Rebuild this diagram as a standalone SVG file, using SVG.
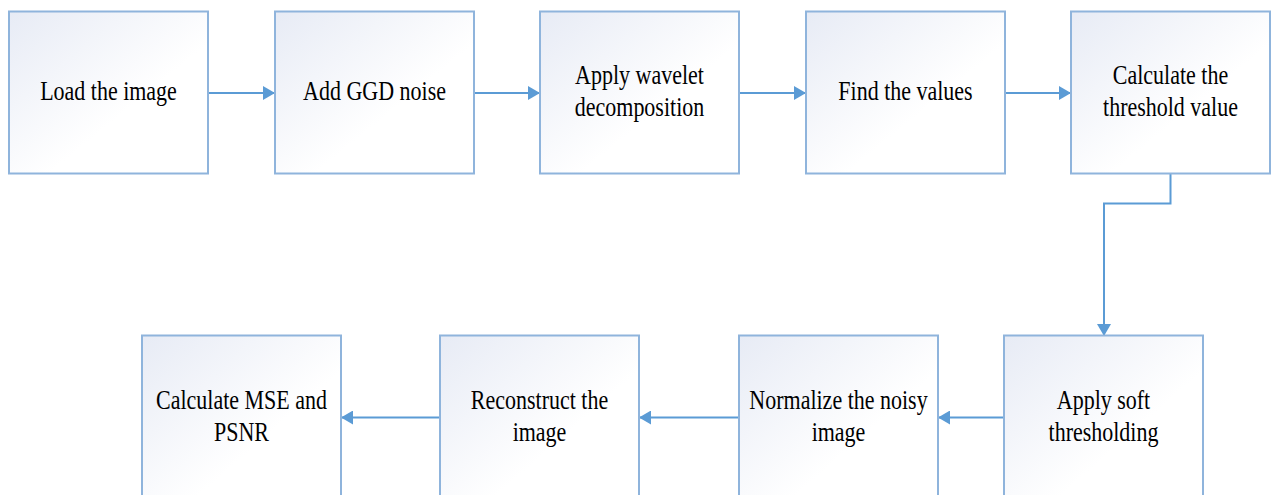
<svg xmlns="http://www.w3.org/2000/svg" width="1277" height="495" viewBox="0 0 1277 495">
<style>
.box{fill:url(#g);stroke:#8fb4dc;stroke-width:2}
.c{fill:none;stroke:#5b9bd5;stroke-width:2}
text{font-family:"Liberation Serif","Times New Roman",serif;font-size:22px;fill:#000;text-anchor:middle}
</style>
<defs>
<linearGradient id="g" x1="0" y1="0" x2="1" y2="1">
<stop offset="0" stop-color="#e7ebf5"/>
<stop offset="0.6" stop-color="#ffffff"/>
<stop offset="1" stop-color="#ffffff"/>
</linearGradient>
<marker id="a" markerUnits="userSpaceOnUse" markerWidth="12" markerHeight="14" refX="11" refY="7" orient="auto">
<path d="M0,0 L12,7 L0,14 Z" fill="#5b9bd5"/>
</marker>
</defs>
<g id="connectors">
<line class="c" x1="208" y1="93" x2="274" y2="93" marker-end="url(#a)"/>
<line class="c" x1="474" y1="93" x2="539" y2="93" marker-end="url(#a)"/>
<line class="c" x1="739" y1="93" x2="805" y2="93" marker-end="url(#a)"/>
<line class="c" x1="1005" y1="93" x2="1070" y2="93" marker-end="url(#a)"/>
<polyline class="c" points="1170.5,174 1170.5,203.5 1104,203.5 1104,335" marker-end="url(#a)"/>
<line class="c" x1="1004" y1="417.5" x2="939" y2="417.5" marker-end="url(#a)"/>
<line class="c" x1="739" y1="417.5" x2="640" y2="417.5" marker-end="url(#a)"/>
<line class="c" x1="440" y1="417.5" x2="342" y2="417.5" marker-end="url(#a)"/>
</g>
<g id="n1"><rect class="box" x="9" y="11.5" width="199" height="162"/><text transform="translate(108.5,100) scale(1,1.2)">Load the image</text></g>
<g id="n2"><rect class="box" x="275" y="11.5" width="199" height="162"/><text transform="translate(374.5,100) scale(1,1.2)">Add GGD noise</text></g>
<g id="n3"><rect class="box" x="540" y="11.5" width="199" height="162"/><text transform="translate(639.5,84) scale(1,1.2)">Apply wavelet</text><text transform="translate(639.5,115.5) scale(1,1.2)">decomposition</text></g>
<g id="n4"><rect class="box" x="806" y="11.5" width="199" height="162"/><text transform="translate(905.5,100) scale(1,1.2)">Find the values</text></g>
<g id="n5"><rect class="box" x="1071" y="11.5" width="199" height="162"/><text transform="translate(1170.5,84) scale(1,1.2)">Calculate the</text><text transform="translate(1170.5,115.5) scale(1,1.2)">threshold value</text></g>
<g id="n6"><rect class="box" x="1004" y="335.5" width="199" height="175"/><text transform="translate(1103.5,409) scale(1,1.2)">Apply soft</text><text transform="translate(1103.5,440.5) scale(1,1.2)">thresholding</text></g>
<g id="n7"><rect class="box" x="739" y="335.5" width="199" height="175"/><text transform="translate(838.5,409) scale(1,1.2)">Normalize the noisy</text><text transform="translate(838.5,440.5) scale(1,1.2)">image</text></g>
<g id="n8"><rect class="box" x="440" y="335.5" width="199" height="175"/><text transform="translate(539.5,409) scale(1,1.2)">Reconstruct the</text><text transform="translate(539.5,440.5) scale(1,1.2)">image</text></g>
<g id="n9"><rect class="box" x="142" y="335.5" width="199" height="175"/><text transform="translate(241.5,409) scale(1,1.2)">Calculate MSE and</text><text transform="translate(241.5,440.5) scale(1,1.2)">PSNR</text></g>
</svg>
